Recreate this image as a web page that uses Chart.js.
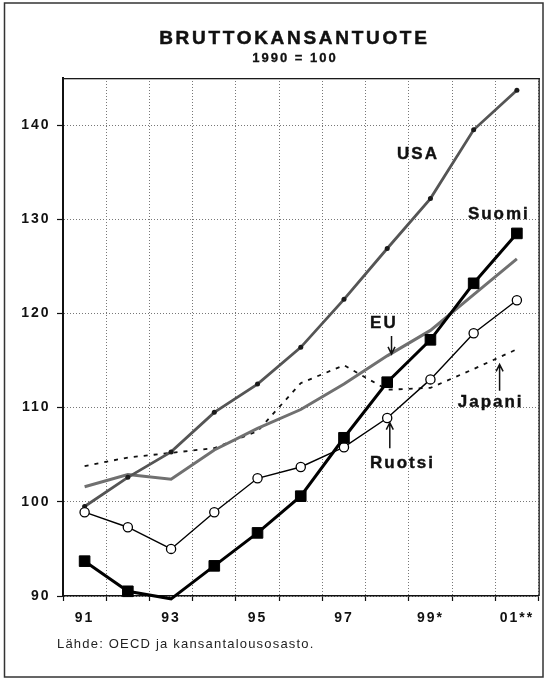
<!DOCTYPE html>
<html><head><meta charset="utf-8">
<script src="https://cdn.jsdelivr.net/npm/chart.js@4"></script>
<style>html,body{margin:0;padding:0;background:#fff;}canvas{display:block;}</style>
</head><body>
<canvas id="c" width="547" height="682"></canvas>
<script>
// ---- data ----
const years = ['1991','1992','1993','1994','1995','1996','1997','1998','1999','2000','2001'];
const tickLabels = ['91','','93','','95','','97','','99*','','01**'];
const yTicks = [90,100,110,120,130,140];
const suomi  = [93.7, 90.5, 89.7, 93.2, 96.7, 100.6, 106.8, 112.7, 117.2, 123.2, 128.5];
const ruotsi = [98.9, 97.3, 95.0, 98.9, 102.5, 103.7, 105.8, 108.9, 113.0, 117.9, 121.4];
const usa    = [99.5, 102.6, 105.3, 109.5, 112.5, 116.4, 121.5, 126.9, 132.2, 139.5, 143.7];
const eu     = [101.6, 102.9, 102.4, 105.5, 107.8, 109.8, 112.5, 115.5, 118.2, 122.0, 125.8];
const japani = [103.8, 104.7, 105.2, 105.7, 107.5, 112.6, 114.5, 111.9, 112.1, 114.1, 116.2];
const titleText = 'BRUTTOKANSANTUOTE';
const subtitleText = '1990 = 100';
const sourceText = 'Lähde: OECD ja kansantalousosasto.';

// ---- annotation placement (in data space: category index, value) ----
const notes = [
  {text:'USA',    i:7.69, v:136.9},
  {text:'Suomi',  i:9.56, v:130.5},
  {text:'EU',     i:6.90, v:119.0, arrow:{i:7.10, from:117.6, to:115.7}},
  {text:'Ruotsi', i:7.33, v:104.1, arrow:{i:7.06, from:105.7, to:108.4}},
  {text:'Japani', i:9.37, v:110.6, arrow:{i:9.60, from:111.8, to:114.6}}
];

const FONT = '"Liberation Sans", Arial, Helvetica, sans-serif';
Chart.defaults.font.family = FONT;

function boldText(ctx, t, x, y, w) {
  ctx.fillText(t, x, y);
  ctx.lineWidth = w; ctx.strokeText(t, x, y);
}

const decor = {
  id: 'decor',
  beforeDraw(chart) { chart.ctx.letterSpacing = '2px'; },
  afterDraw(chart) {
    const {ctx, chartArea: a, scales: {x, y}} = chart;
    ctx.save();
    ctx.setLineDash([]);
    // plot box top/right
    ctx.fillStyle = '#1a1a1a';
    ctx.fillRect(a.left, a.top, a.right - a.left + 1.3, 1.3);
    ctx.fillRect(a.right, a.top, 1.3, a.bottom - a.top);
    // outer frame
    ctx.strokeStyle = '#333'; ctx.lineWidth = 1.5;
    ctx.strokeRect(4.5, 3, 538.5, 674);
    // title
    ctx.fillStyle = '#111'; ctx.strokeStyle = '#111';
    ctx.textBaseline = 'alphabetic'; ctx.textAlign = 'center';
    ctx.font = 'bold 19px ' + FONT; ctx.letterSpacing = '2.7px';
    boldText(ctx, titleText, 293 + 1.35, 43.5, 0.5);
    ctx.font = 'bold 13px ' + FONT; ctx.letterSpacing = '2px';
    boldText(ctx, subtitleText, 294 + 1, 61.5, 0.3);
    // source
    ctx.textAlign = 'left'; ctx.fillStyle = '#222';
    ctx.font = '13px ' + FONT; ctx.letterSpacing = '1.2px';
    ctx.fillText(sourceText, 57, 648);
    // notes
    ctx.fillStyle = '#111'; ctx.strokeStyle = '#111';
    ctx.font = 'bold 17px ' + FONT; ctx.letterSpacing = '2px';
    ctx.textAlign = 'center'; ctx.textBaseline = 'middle';
    notes.forEach(n => {
      boldText(ctx, n.text, x.getPixelForValue(n.i) + 1, y.getPixelForValue(n.v), 0.4);
      if (n.arrow) {
        const ax = x.getPixelForValue(n.arrow.i);
        const y1 = y.getPixelForValue(n.arrow.from), y2 = y.getPixelForValue(n.arrow.to);
        const dir = y2 > y1 ? 1 : -1;
        ctx.lineWidth = 1.5;
        ctx.beginPath();
        ctx.moveTo(ax, y1); ctx.lineTo(ax, y2);
        ctx.moveTo(ax - 3.5, y2 - dir * 7); ctx.lineTo(ax, y2); ctx.lineTo(ax + 3.5, y2 - dir * 7);
        ctx.stroke();
      }
    });
    ctx.restore();
  }
};

new Chart(document.getElementById('c'), {
  type: 'line',
  data: {
    labels: years,
    datasets: [
      {label:'Suomi', data: suomi, borderColor:'#000', borderWidth:3, pointStyle:'rect',
       pointRadius: suomi.map((v, i) => i === 2 ? 0 : 7.5), pointBackgroundColor:'#000', pointBorderColor:'#000', pointBorderWidth:1, clip:false},
      {label:'Ruotsi', data: ruotsi, borderColor:'#000', borderWidth:1.4, pointStyle:'circle',
       pointRadius:4.6, pointBackgroundColor:'#fff', pointBorderColor:'#000', pointBorderWidth:1.3},
      {label:'USA', data: usa, borderColor:'#555', borderWidth:2.8, pointRadius:2.5,
       pointBackgroundColor:'#1a1a1a', pointBorderWidth:0},
      {label:'EU', data: eu, borderColor:'#707070', borderWidth:3, pointRadius:0},
      {label:'Japani', data: japani, borderColor:'#111', borderWidth:1.8, borderDash:[4,6], pointRadius:0}
    ]
  },
  options: {
    responsive: false, animation: false, devicePixelRatio: 1,
    layout: {padding: {top: 78, right: 8, left: 0, bottom: 0}},
    plugins: {legend: {display: false}, tooltip: {enabled: false}, title: {display: false}},
    elements: {line: {tension: 0}},
    scales: {
      x: {
        type: 'category', offset: true,
        grid: {offset: true, color: '#777', lineWidth: 1, tickLength: 5, tickColor: '#111', tickWidth: 1.2},
        border: {display: true, color: '#111', width: 1.6, dash: [1, 2]},
        ticks: {autoSkip: false, maxRotation: 0, padding: 9, color: '#111',
                font: {size: 14, weight: 'bold'}, callback: (v, i) => tickLabels[i]},
        afterFit: s => { s.height = 86; }
      },
      y: {
        min: 90, max: 145,
        afterBuildTicks: s => { s.ticks = yTicks.map(v => ({value: v})); },
        grid: {color: '#777', lineWidth: 1, tickLength: 6, tickColor: '#111', tickWidth: 1.2},
        border: {display: true, color: '#111', width: 2, dash: [1, 2]},
        ticks: {padding: 6.5, color: '#111', font: {size: 14, weight: 'bold'}},
        afterFit: s => { s.width = 63; }
      }
    }
  },
  plugins: [decor]
});
</script>
</body></html>
